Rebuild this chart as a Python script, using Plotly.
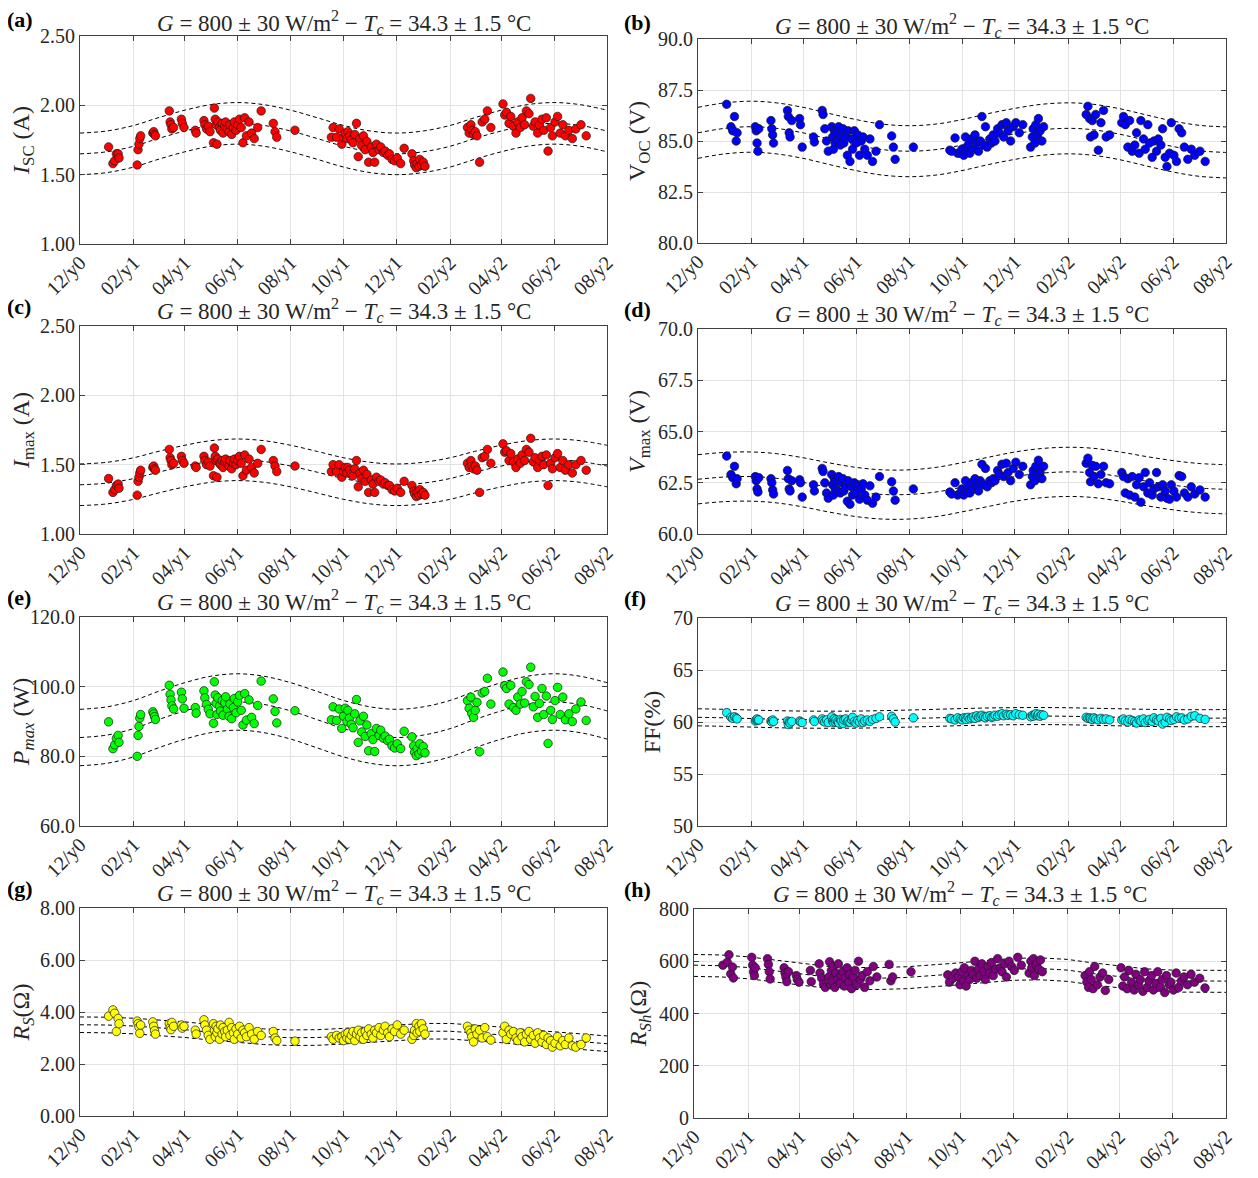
import pandas as pd
import plotly.graph_objects as go

# ---------------- data ----------------
# measurement days counted from 1 Dec of year y0
days = [33,
        38, 40, 42, 44, 45,
        66, 67, 68, 69, 70,
        84, 85, 86, 87,
        103, 104, 105, 106, 108,
        117, 118, 120,
        133, 134,
        143, 144, 146, 148, 150,
        154, 155, 156, 157, 158, 159, 161, 162, 164, 165, 167, 168, 170, 172, 173,
        175, 177, 178, 180, 182, 184, 186, 188, 190, 192, 195, 198, 201, 205, 209,
        223, 225, 227,
        248,
        290, 292, 296, 299,
        302, 304, 306, 308, 309, 311, 313, 315, 317, 319, 321, 323, 325, 327, 329, 331,
        333, 336, 338, 340, 342, 345, 347, 350, 352, 355, 357, 360, 363, 366, 370, 374,
        383, 385, 386, 388, 389, 391, 392, 394, 396, 398,
        447, 449, 451, 452, 454, 456, 458, 461, 464, 467, 470, 474,
        488, 490, 492, 495, 497, 500, 503, 505, 508, 510, 513, 515, 518, 520, 523, 525, 528,
        530, 533, 535, 538, 540, 543, 545, 548, 551, 554, 557, 560, 564, 568, 572, 578, 584]

isc = [1.70,
       1.58, 1.60, 1.65, 1.65, 1.62,
       1.57, 1.68, 1.72, 1.76, 1.78,
       1.80, 1.81, 1.79, 1.78,
       1.96, 1.88, 1.86, 1.83, 1.84,
       1.90, 1.87, 1.84,
       1.82, 1.80,
       1.89, 1.86, 1.83, 1.85, 1.81,
       1.73, 1.98, 1.90, 1.86, 1.72, 1.88, 1.84, 1.82, 1.87, 1.80, 1.85, 1.88, 1.83, 1.81, 1.86,
       1.79, 1.84, 1.88, 1.82, 1.86, 1.90, 1.84, 1.73, 1.91, 1.78, 1.88, 1.80, 1.76, 1.84, 1.96,
       1.87, 1.81, 1.77,
       1.82,
       1.77, 1.84, 1.77, 1.83,
       1.72, 1.77, 1.80, 1.76, 1.81, 1.78, 1.75, 1.73, 1.79, 1.87, 1.63, 1.76, 1.71, 1.78, 1.68, 1.74,
       1.59, 1.70, 1.66, 1.59, 1.72, 1.68, 1.70, 1.66, 1.67, 1.64, 1.65, 1.61, 1.60, 1.62, 1.58, 1.69,
       1.65, 1.60, 1.57, 1.55, 1.58, 1.56, 1.61, 1.57, 1.59, 1.56,
       1.84, 1.80, 1.86, 1.82, 1.79, 1.81, 1.78, 1.59, 1.88, 1.90, 1.96, 1.84,
       2.01, 1.93, 1.95, 1.87, 1.92, 1.85, 1.80, 1.88, 1.84, 1.91, 1.86, 1.96, 1.94, 2.05, 1.85, 1.88, 1.80,
       1.86, 1.90, 1.82, 1.91, 1.67, 1.84, 1.78, 1.88, 1.92, 1.80, 1.86, 1.78, 1.82, 1.76, 1.83, 1.86, 1.78]

voc = [86.8,
       85.7, 85.5, 86.2, 85.0, 85.4,
       85.7, 85.5, 84.9, 84.5, 85.6,
       86.0, 85.6, 85.3, 84.9,
       86.5, 86.2, 85.4, 85.2, 86.0,
       86.1, 85.8, 84.7,
       85.2, 84.95,
       86.5, 86.3, 85.6, 85.0, 84.5,
       85.7, 85.2, 84.6, 85.5, 84.9, 85.4, 85.0, 85.7, 84.8, 85.3, 85.6, 84.9, 85.2, 84.3, 85.5,
       84.0, 85.1, 84.6, 85.5, 84.9, 85.3, 84.3, 85.0, 85.2, 84.6, 84.3, 85.1, 84.0, 84.5, 85.8,
       85.25, 84.7, 84.1,
       84.7,
       84.55, 84.5, 85.15, 84.4,
       84.4, 84.6, 84.3, 85.2, 84.5, 84.8, 84.4, 85.1, 84.6, 85.3, 84.9, 84.5, 85.0, 86.2, 84.8, 85.7,
       84.7, 85.1, 84.9, 85.3, 85.0, 85.6, 85.4, 85.8, 85.2, 85.9, 85.5, 85.0, 85.7, 85.9, 85.4, 85.8,
       84.7, 85.2, 85.6, 84.9, 85.8, 85.3, 86.1, 85.5, 85.0, 85.7,
       86.3, 86.7, 86.1, 85.2, 86.0, 85.3, 86.3, 84.55, 85.9, 86.5, 85.2, 85.3,
       85.9, 86.2, 85.8, 84.7, 86.0, 84.5, 84.8, 85.4, 84.4, 86.0, 85.1, 84.6, 85.8, 84.9, 84.2, 85.0, 84.5,
       85.1, 84.8, 85.6, 84.2, 83.75, 84.4, 85.9, 84.3, 84.0, 85.6, 85.4, 84.7, 84.1, 84.6, 84.3, 84.5, 84.0]

imax = [1.40,
        1.30, 1.32, 1.35, 1.36, 1.33,
        1.28, 1.38, 1.41, 1.44, 1.46,
        1.48, 1.49, 1.47, 1.46,
        1.61, 1.55, 1.53, 1.50, 1.51,
        1.56, 1.53, 1.51,
        1.49, 1.48,
        1.56, 1.53, 1.50, 1.52, 1.49,
        1.42, 1.62, 1.56, 1.53, 1.41, 1.54, 1.51, 1.50, 1.53, 1.48, 1.52, 1.54, 1.50, 1.49, 1.53,
        1.47, 1.51, 1.54, 1.50, 1.53, 1.56, 1.51, 1.42, 1.57, 1.46, 1.54, 1.48, 1.44, 1.51, 1.61,
        1.53, 1.49, 1.45,
        1.49,
        1.45, 1.50, 1.45, 1.50,
        1.41, 1.45, 1.48, 1.44, 1.48, 1.46, 1.43, 1.42, 1.47, 1.53, 1.34, 1.44, 1.40, 1.46, 1.38, 1.43,
        1.30, 1.39, 1.36, 1.30, 1.41, 1.38, 1.39, 1.36, 1.37, 1.35, 1.35, 1.32, 1.31, 1.33, 1.30, 1.38,
        1.35, 1.31, 1.29, 1.27, 1.30, 1.28, 1.32, 1.29, 1.30, 1.28,
        1.51, 1.48, 1.53, 1.49, 1.47, 1.49, 1.46, 1.30, 1.55, 1.56, 1.61, 1.51,
        1.65, 1.59, 1.60, 1.53, 1.58, 1.52, 1.48, 1.54, 1.51, 1.57, 1.53, 1.61, 1.59, 1.69, 1.52, 1.55, 1.48,
        1.53, 1.56, 1.50, 1.57, 1.35, 1.51, 1.47, 1.55, 1.58, 1.48, 1.53, 1.46, 1.50, 1.44, 1.50, 1.53, 1.46]

vmax = [63.8,
        62.9, 62.75, 63.3, 62.45, 62.7,
        62.8, 62.6, 62.2, 62.05, 62.75,
        62.7, 62.5, 62.15, 61.95,
        63.1, 62.7, 62.2, 62.1, 62.6,
        62.65, 62.5, 61.8,
        62.4, 62.1,
        63.2, 63.05, 62.5, 62.0, 61.75,
        62.9, 62.4, 61.9, 62.7, 62.2, 62.6, 62.1, 62.8, 62.0, 62.5, 62.7, 62.1, 62.3, 61.6, 62.6,
        61.45, 62.3, 61.9, 62.5, 62.0, 62.4, 61.7, 62.2, 62.45, 61.9, 61.65, 62.35, 61.5, 61.8, 62.8,
        62.55, 62.1, 61.65,
        62.2,
        62.05, 61.95, 62.5, 61.9,
        62.0, 62.2, 61.9, 62.6, 62.1, 62.3, 62.0, 62.5, 62.2, 62.7, 62.4, 62.1, 62.6, 63.4, 62.4, 63.2,
        62.3, 62.6, 62.5, 62.7, 62.6, 63.1, 62.9, 63.4, 62.8, 63.45, 63.0, 62.6, 63.2, 63.5, 62.9, 63.3,
        62.4, 62.8, 63.1, 62.6, 63.3, 62.9, 63.6, 63.0, 62.7, 63.3,
        63.45, 63.7, 63.0, 62.55, 63.35, 62.8, 63.3, 62.45, 62.9, 63.3, 62.5, 62.45,
        63.0, 62.8, 62.0, 62.7, 61.9, 62.8, 61.8, 62.4, 62.75, 61.55, 62.3, 63.0, 62.0, 62.5, 61.9, 62.2, 63.0,
        62.3, 61.8, 62.4, 62.1, 61.75, 61.7, 62.4, 62.1, 61.8, 62.85, 62.8, 62.0, 61.8, 62.3, 61.95, 62.15, 61.8]

pmax = [89.9,
        82.2, 83.3, 85.2, 86.0, 84.0,
        80.0, 86.0, 88.6, 91.0, 92.0,
        92.8, 92.2, 91.4, 90.6,
        100.4, 97.8, 96.2, 94.5, 93.6,
        98.4, 96.5, 93.8,
        94.0, 92.4,
        98.8, 96.8, 94.9, 93.5, 92.2,
        89.5, 101.4, 97.6, 95.2, 92.0, 96.8, 94.4, 93.0, 96.0, 91.8, 95.4, 97.1, 93.5, 91.5, 95.0,
        90.8, 94.0, 96.6, 92.5, 95.6, 97.5, 93.2, 89.0, 98.0, 90.4, 96.2, 91.2, 89.4, 94.6, 101.6,
        96.5, 92.9, 89.6,
        93.1,
        90.5, 94.2, 90.3, 93.6,
        88.0, 91.5, 93.8, 90.0, 93.2, 91.0, 89.2, 88.2, 92.2, 96.3, 84.0, 90.2, 87.0, 91.5, 85.7, 89.0,
        81.6, 86.5, 84.8, 81.4, 88.0, 86.0, 87.5, 85.2, 85.8, 84.5, 84.9, 83.0, 82.4, 83.6, 82.2, 87.2,
        85.6, 83.0, 81.2, 80.2, 82.2, 80.7, 83.6, 81.5, 82.8, 81.0,
        96.0, 93.8, 97.0, 92.3, 91.2, 93.2, 95.5, 81.3, 98.2, 98.6, 102.4, 95.0,
        104.2, 100.3, 99.5, 95.0, 100.4, 94.0, 93.2, 97.0, 95.0, 98.6, 95.3, 101.4, 100.6, 105.6, 94.2, 97.2, 91.2,
        95.2, 99.5, 92.0, 97.3, 83.7, 93.2, 90.6, 96.0, 99.8, 92.0, 97.0, 90.5, 92.2, 90.0, 93.6, 95.6, 90.3]

ff = [60.9,
      60.45, 60.35, 60.5, 60.4, 60.3,
      60.1, 60.2, 60.3, 60.15, 60.2,
      60.1, 60.0, 60.2, 60.05,
      60.1, 59.75, 60.0, 59.9, 60.05,
      60.1, 60.0, 59.95,
      60.2, 60.05,
      60.3, 60.1, 60.0, 60.2, 59.95,
      60.5, 60.1, 59.95, 60.3, 60.0, 60.2, 60.05, 59.9, 60.25, 60.1, 59.85, 60.2, 60.3, 60.0, 60.1,
      59.95, 60.2, 60.45, 60.05, 59.9, 60.15, 60.0, 60.3, 59.95, 60.1, 60.2, 60.05, 60.25, 60.35, 60.5,
      60.55, 60.3, 60.0,
      60.4,
      60.35, 60.3, 60.2, 60.4,
      60.3, 60.2, 60.4, 60.35, 60.25, 60.45, 60.3, 60.4, 60.5, 60.35, 60.6, 60.45, 60.55, 60.65, 60.5, 60.4,
      60.55, 60.6, 60.45, 60.5, 60.65, 60.55, 60.7, 60.8, 60.6, 60.75, 60.65, 60.7, 60.6, 60.8, 60.7, 60.65,
      60.5, 60.65, 60.55, 60.7, 60.8, 60.6, 60.75, 60.55, 60.7, 60.65,
      60.45, 60.35, 60.4, 60.3, 60.25, 60.4, 60.3, 60.2, 60.35, 60.25, 60.3, 60.2,
      60.2, 60.3, 60.1, 60.0, 60.25, 60.15, 60.05, 59.9, 60.2, 60.1, 60.3, 59.95, 60.15, 60.25, 60.05, 60.4, 60.2,
      60.1, 60.35, 59.8, 59.95, 60.45, 60.3, 60.15, 60.25, 60.5, 60.35, 60.4, 60.2, 60.3, 60.55, 60.6, 60.35, 60.25]

rs = [3.84,
      4.08, 3.95, 3.25, 3.75, 3.55,
      3.65, 3.55, 3.42, 3.18, 3.5,
      3.62, 3.45, 3.28, 3.15,
      3.55, 3.4, 3.32, 3.6, 3.45,
      3.5, 3.38, 3.45,
      3.3, 3.15,
      3.7, 3.5, 3.3, 3.1, 2.95,
      3.55, 3.3, 3.05, 3.45, 3.2, 3.35, 2.95, 3.5, 3.15, 3.4, 3.25, 3.05, 3.3, 3.6, 3.1,
      3.4, 3.2, 2.95, 3.35, 3.15, 3.45, 3.0, 3.3, 3.2, 3.05, 3.4, 3.15, 2.95, 3.25, 3.1,
      3.25, 3.0, 2.9,
      2.88,
      3.05, 2.95, 3.1, 3.0,
      3.05, 2.9, 3.15, 3.0, 3.2, 2.95, 3.1, 3.25, 2.9, 3.15, 3.3, 3.05, 3.2, 2.95, 3.25, 3.1,
      3.35, 3.15, 3.0, 3.3, 3.2, 3.4, 3.1, 3.3, 3.45, 3.2, 3.05, 3.35, 3.25, 3.5, 3.15, 3.3,
      2.95, 3.1, 3.3, 3.55, 3.2, 3.45, 3.25, 3.55, 3.35, 3.15,
      3.45, 3.3, 3.2, 3.05, 2.85, 3.35, 3.15, 3.3, 3.0, 3.4, 3.05, 2.92,
      3.2, 3.45, 2.95, 3.3, 3.15, 3.25, 3.0, 2.9, 3.2, 3.05, 2.85, 3.15, 3.25, 2.95, 3.1, 2.8, 3.2,
      3.0, 2.85, 3.1, 2.75, 3.0, 2.9, 2.65, 2.8, 3.05, 2.7, 2.9, 2.75, 3.0, 2.7, 2.65, 2.75, 3.0]

rsh = [585,
       596, 625, 552, 578, 536,
       615, 585, 560, 545, 575,
       610, 588, 560, 532,
       575, 555, 540, 522, 560,
       545, 530, 520,
       565, 522,
       590, 555, 535, 512, 500,
       540, 598, 510, 565, 525, 580, 500, 555, 530, 590, 515, 545, 560, 505, 535,
       575, 520, 550, 495, 540, 565, 510, 600, 530, 545, 500, 560, 525, 580, 540,
       588, 525, 540,
       560,
       548, 520, 535, 555,
       540, 510, 560, 525, 575, 505, 545, 530, 565, 550, 600, 535, 570, 545, 590, 560,
       530, 580, 555, 595, 545, 570, 610, 575, 560, 590, 540, 600, 580, 565, 615, 585,
       555, 600, 575, 610, 545, 585, 595, 570, 605, 560,
       545, 520, 500, 560, 530, 495, 580, 510, 540, 555, 488, 530,
       575, 505, 540, 495, 565, 520, 490, 550, 510, 530, 485, 560, 500, 525, 545, 490, 515,
       560, 500, 530, 480, 545, 510, 520, 490, 555, 500, 525, 540, 510, 550, 520, 535, 498]

# fitted seasonal bands, sampled on the first of each month (12/y0 ... 08/y2)
isc_mid = [1.65, 1.665, 1.705, 1.76, 1.815, 1.855, 1.87, 1.855, 1.815, 1.76, 1.705, 1.665, 1.65, 1.665, 1.705, 1.76, 1.815, 1.855, 1.87, 1.855, 1.815]
isc_up = [1.80, 1.815, 1.855, 1.91, 1.965, 2.005, 2.02, 2.005, 1.965, 1.91, 1.855, 1.815, 1.80, 1.815, 1.855, 1.91, 1.965, 2.005, 2.02, 2.005, 1.965]
isc_lo = [1.50, 1.515, 1.555, 1.61, 1.665, 1.705, 1.72, 1.705, 1.665, 1.61, 1.555, 1.515, 1.50, 1.515, 1.555, 1.61, 1.665, 1.705, 1.72, 1.705, 1.665]

voc_mid = [85.40, 85.62, 85.70, 85.62, 85.40, 85.10, 84.80, 84.58, 84.50, 84.58, 84.80, 85.10, 85.35, 85.55, 85.62, 85.55, 85.33, 85.03, 84.73, 84.52, 84.44]
voc_up = [86.65, 86.87, 86.95, 86.87, 86.65, 86.35, 86.05, 85.83, 85.75, 85.83, 86.05, 86.35, 86.60, 86.80, 86.87, 86.80, 86.58, 86.28, 85.98, 85.77, 85.69]
voc_lo = [84.15, 84.37, 84.45, 84.37, 84.15, 83.85, 83.55, 83.33, 83.25, 83.33, 83.55, 83.85, 84.10, 84.30, 84.37, 84.30, 84.08, 83.78, 83.48, 83.27, 83.19]

imax_mid = [1.355, 1.367, 1.40, 1.445, 1.49, 1.523, 1.535, 1.523, 1.49, 1.445, 1.40, 1.367, 1.355, 1.367, 1.40, 1.445, 1.49, 1.523, 1.535, 1.523, 1.49]
imax_up = [1.505, 1.517, 1.55, 1.595, 1.64, 1.673, 1.685, 1.673, 1.64, 1.595, 1.55, 1.517, 1.505, 1.517, 1.55, 1.595, 1.64, 1.673, 1.685, 1.673, 1.64]
imax_lo = [1.205, 1.217, 1.25, 1.295, 1.34, 1.373, 1.385, 1.373, 1.34, 1.295, 1.25, 1.217, 1.205, 1.217, 1.25, 1.295, 1.34, 1.373, 1.385, 1.373, 1.34]

vmax_mid = [62.67, 62.78, 62.80, 62.72, 62.52, 62.27, 62.05, 61.93, 61.93, 62.05, 62.28, 62.55, 62.80, 62.97, 63.03, 62.98, 62.80, 62.58, 62.38, 62.24, 62.18]
vmax_up = [63.87, 63.98, 64.00, 63.92, 63.72, 63.47, 63.25, 63.13, 63.13, 63.25, 63.48, 63.75, 64.00, 64.17, 64.23, 64.18, 64.00, 63.78, 63.58, 63.44, 63.38]
vmax_lo = [61.47, 61.58, 61.60, 61.52, 61.32, 61.07, 60.85, 60.73, 60.73, 60.85, 61.08, 61.35, 61.60, 61.77, 61.83, 61.78, 61.60, 61.38, 61.18, 61.04, 60.98]

pmax_mid = [85.4, 86.1, 87.95, 90.5, 93.05, 94.9, 95.6, 94.9, 93.05, 90.5, 87.95, 86.1, 85.4, 86.1, 87.95, 90.5, 93.05, 94.9, 95.6, 94.9, 93.05]
pmax_up = [93.5, 94.2, 96.05, 98.6, 101.15, 103.0, 103.7, 103.0, 101.15, 98.6, 96.05, 94.2, 93.5, 94.2, 96.05, 98.6, 101.15, 103.0, 103.7, 103.0, 101.15]
pmax_lo = [77.3, 78.0, 79.85, 82.4, 84.95, 86.8, 87.5, 86.8, 84.95, 82.4, 79.85, 78.0, 77.3, 78.0, 79.85, 82.4, 84.95, 86.8, 87.5, 86.8, 84.95]

ff_mid = [60.45, 60.40, 60.33, 60.27, 60.23, 60.22, 60.23, 60.27, 60.33, 60.40, 60.47, 60.53, 60.56, 60.57, 60.55, 60.50, 60.45, 60.40, 60.37, 60.36, 60.38]
ff_up = [61.27, 61.22, 61.15, 61.09, 61.05, 61.04, 61.05, 61.09, 61.15, 61.22, 61.29, 61.35, 61.38, 61.39, 61.37, 61.32, 61.27, 61.22, 61.19, 61.18, 61.20]
ff_lo = [59.63, 59.58, 59.51, 59.45, 59.41, 59.40, 59.41, 59.45, 59.51, 59.58, 59.65, 59.71, 59.74, 59.75, 59.73, 59.68, 59.63, 59.58, 59.55, 59.54, 59.56]

rs_mid = [3.51, 3.50, 3.46, 3.40, 3.32, 3.22, 3.13, 3.05, 3.01, 3.02, 3.07, 3.14, 3.21, 3.26, 3.26, 3.20, 3.12, 3.02, 2.93, 2.85, 2.78]
rs_up = [3.81, 3.80, 3.76, 3.70, 3.62, 3.52, 3.43, 3.35, 3.31, 3.32, 3.37, 3.44, 3.51, 3.56, 3.56, 3.50, 3.42, 3.32, 3.23, 3.15, 3.08]
rs_lo = [3.21, 3.20, 3.16, 3.10, 3.02, 2.92, 2.83, 2.75, 2.71, 2.72, 2.77, 2.84, 2.91, 2.96, 2.96, 2.90, 2.82, 2.72, 2.63, 2.55, 2.48]

rsh_mid = [585, 583, 576, 565, 552, 540, 535, 535, 538, 545, 553, 562, 570, 572, 566, 553, 540, 530, 525, 524, 524]
rsh_up = [626, 624, 617, 606, 593, 581, 576, 576, 579, 586, 594, 603, 611, 613, 607, 594, 581, 571, 566, 565, 565]
rsh_lo = [542, 540, 533, 522, 509, 497, 492, 492, 495, 502, 510, 519, 527, 529, 523, 510, 497, 487, 482, 481, 481]

tick_labels = ["12/y0", "02/y1", "04/y1", "06/y1", "08/y1", "10/y1",
               "12/y1", "02/y2", "04/y2", "06/y2", "08/y2"]

title_txt = "<i>G</i> = 800 ± 30 W/m<sup>2</sup> − <i>T<sub>c</sub></i> = 34.3 ± 1.5 °C"

# ---------------- figure ----------------
OFF = 8                      # page body margin of the saved html
W, H = 1258 - OFF, 1178 - OFF
start = pd.Timestamp("2020-12-01")
dates = [start + pd.Timedelta(days=d) for d in days]
month_dates = [start + pd.DateOffset(months=m) for m in range(21)]
tick_dates = month_dates[::2]

FONT = "Liberation Serif"
TXT = "#262626"

panels = [
    # key, values, bands, color, ytitle, yrange, dtick, fmt, box(screen px: x0,x1,y0,y1), line shape
    ("a", isc, (isc_up, isc_mid, isc_lo), "#ff0000", "<i>I</i><sub>SC</sub> (A)", [1.0, 2.5], 0.5, ".2f", (80, 607, 36, 244), "spline"),
    ("b", voc, (voc_up, voc_mid, voc_lo), "#0000ff", "V<sub>OC</sub> (V)", [80, 90], 2.5, ".1f", (698, 1226, 39, 243), "spline"),
    ("c", imax, (imax_up, imax_mid, imax_lo), "#ff0000", "<i>I</i><sub>max</sub> (A)", [1.0, 2.5], 0.5, ".2f", (80, 607, 326, 534), "spline"),
    ("d", vmax, (vmax_up, vmax_mid, vmax_lo), "#0000ff", "<i>V</i><sub>max</sub> (V)", [60, 70], 2.5, ".1f", (698, 1226, 329, 534), "spline"),
    ("e", pmax, (pmax_up, pmax_mid, pmax_lo), "#00ff00", "<i>P<sub>max</sub></i> (W)", [60, 120], 20, ".1f", (80, 607, 617, 826), "spline"),
    ("f", ff, (ff_up, ff_mid, ff_lo), "#00ffff", "FF(%)", [50, 70], 5, "d", (698, 1226, 618, 826), "spline"),
    ("g", rs, (rs_up, rs_mid, rs_lo), "#ffff00", "<i>R<sub>S</sub></i>(Ω)", [0, 8], 2, ".2f", (80, 607, 908, 1116), "linear"),
    ("h", rsh, (rsh_up, rsh_mid, rsh_lo), "#800080", "<i>R<sub>Sh</sub></i>(Ω)", [0, 800], 200, "d", (694, 1226, 909, 1118), "linear"),
]


def px(v):
    return (v - OFF) / W


def py(v):
    return 1 - (v - OFF) / H


fig = go.Figure()
layout = dict(width=W, height=H, margin=dict(l=0, r=0, t=0, b=0, autoexpand=False),
              paper_bgcolor="white", plot_bgcolor="white", showlegend=False,
              font=dict(family=FONT, size=20, color=TXT))
annotations = []

for i, (key, vals, bands, color, ytitle, yr, dt, fmt, box, shape) in enumerate(panels):
    n = i + 1
    xa = "x" if n == 1 else f"x{n}"
    ya = "y" if n == 1 else f"y{n}"
    x0, x1, y0, y1 = box
    for band in bands:
        fig.add_trace(go.Scatter(x=month_dates, y=band, mode="lines", xaxis=xa, yaxis=ya,
                                 line=dict(color="black", width=1, dash="4px,3px", shape=shape),
                                 hoverinfo="skip"))
    fig.add_trace(go.Scatter(x=dates, y=vals, mode="markers", xaxis=xa, yaxis=ya,
                             marker=dict(size=8.5, color=color,
                                         line=dict(color="#1a1a1a", width=0.7))))
    axis_common = dict(showline=True, mirror="ticks", linecolor="#404040", linewidth=1.2,
                       ticks="inside", ticklen=5, tickcolor="#404040", automargin=False,
                       showgrid=True, gridcolor="#e3e3e3", gridwidth=1, zeroline=False,
                       tickfont=dict(family=FONT, size=20, color=TXT))
    layout["xaxis" if n == 1 else f"xaxis{n}"] = dict(
        axis_common, domain=[px(x0), px(x1)], anchor=ya, type="date",
        range=[month_dates[0], month_dates[-1]], tickmode="array",
        tickvals=tick_dates, ticktext=tick_labels, tickangle=-45,
        ticklabelstandoff=-2)
    layout["yaxis" if n == 1 else f"yaxis{n}"] = dict(
        axis_common, domain=[py(y1), py(y0)], anchor=xa,
        range=yr, tick0=yr[0], dtick=dt, tickformat=fmt,
        title=dict(text=ytitle, font=dict(family=FONT, size=24, color=TXT), standoff=5))
    top_row = y0 < 100
    # panel title
    annotations.append(dict(text=title_txt, xref="paper", yref="paper", borderpad=0,
                            x=(px(x0) + px(x1)) / 2, y=py(y0 + (3 if top_row else 1)),
                            xanchor="center", yanchor="bottom",
                            showarrow=False, font=dict(family=FONT, size=23, color=TXT)))
    # panel label
    lx = 6 if x0 < 300 else 623
    annotations.append(dict(text=f"<b>({key})</b>", xref="paper", yref="paper", borderpad=0,
                            x=px(lx), y=py(y0 - (3 if top_row else 6)), xanchor="left", yanchor="bottom",
                            showarrow=False, font=dict(family=FONT, size=22, color="black")))

layout["annotations"] = annotations
fig.update_layout(**layout)
fig.write_html("out.html")
